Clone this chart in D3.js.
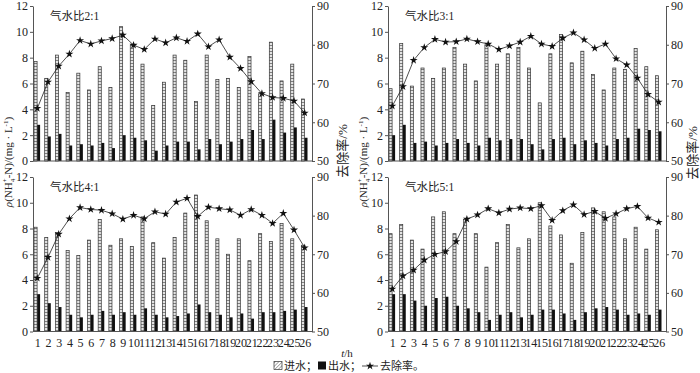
<!DOCTYPE html>
<html><head><meta charset="utf-8">
<script src="https://cdn.jsdelivr.net/npm/d3@7/dist/d3.min.js"></script>
<style>
body{margin:0;background:#fff;}
svg{display:block;}
text{font-family:"Liberation Serif","Times New Roman","Noto Sans CJK SC",serif;fill:#222;}
</style></head>
<body>
<svg id="c" width="700" height="373"></svg>
<script>
const categories = d3.range(1, 27).map(String);
const leftTicks = [0, 2, 4, 6, 8, 10, 12];
const rightTicks = [50, 60, 70, 80, 90];
const titles = ["气水比2:1", "气水比3:1", "气水比4:1", "气水比5:1"];

const inflow21 = [7.7,6.4,8.2,5.3,6.8,5.5,7.3,5.7,10.4,9.0,7.5,4.3,6.1,8.2,7.8,4.6,8.2,6.3,6.4,5.7,8.1,5.2,9.2,6.2,7.5,4.8];
const outflow21 = [2.8,1.9,2.1,1.2,1.3,1.2,1.4,1.0,2.0,1.8,1.6,0.8,1.2,1.5,1.5,0.9,1.7,1.3,1.5,1.7,2.4,1.7,3.2,2.2,2.6,1.8];
const removal21 = [63.6,70.4,74.5,77.6,81.1,80.2,81.0,81.6,82.5,79.9,78.8,81.5,80.5,81.8,80.9,82.8,79.5,81.3,76.8,73.9,70.5,67.4,66.4,66.2,65.5,62.4];

const inflow31 = [5.6,9.1,5.8,7.2,6.4,7.2,8.8,7.5,6.2,9.0,7.5,8.3,8.8,7.2,4.5,8.3,9.8,7.6,8.5,6.7,5.5,7.2,7.1,8.7,7.3,6.6];
const outflow31 = [2.0,2.8,1.4,1.5,1.2,1.4,1.7,1.4,1.2,1.8,1.6,1.7,1.7,1.3,0.9,1.7,1.8,1.3,1.6,1.4,1.2,1.7,1.8,2.5,2.4,2.3];
const removal31 = [64.2,69.2,76.0,79.3,81.4,80.7,80.8,81.5,80.8,80.2,78.8,79.7,80.7,82.2,80.2,79.6,81.7,83.1,81.3,79.1,80.2,76.4,74.8,71.4,67.2,65.2];

const inflow41 = [8.1,7.3,7.7,6.3,5.9,7.1,8.7,6.7,7.2,6.6,8.9,6.9,5.7,7.3,9.2,10.6,8.6,7.2,6.0,7.2,5.5,7.6,7.0,8.4,7.2,6.7];
const outflow41 = [2.9,2.2,1.9,1.3,1.1,1.3,1.6,1.3,1.5,1.3,1.8,1.3,1.1,1.2,1.4,2.1,1.5,1.3,1.1,1.4,1.0,1.5,1.5,1.6,1.7,1.9];
const removal41 = [63.8,69.2,75.2,79.2,82.1,81.6,81.4,80.5,79.1,80.1,79.2,81.0,80.4,83.5,84.5,79.8,82.2,81.8,81.5,80.1,81.6,80.1,78.0,80.6,76.3,71.7];

const inflow51 = [7.6,8.3,7.1,6.4,8.9,9.3,7.6,8.7,7.6,5.0,6.9,8.3,6.5,7.2,10.0,8.2,7.5,5.3,7.7,9.6,9.3,8.9,7.2,8.1,6.4,7.9];
const outflow51 = [2.9,2.9,2.4,2.0,2.6,2.7,2.0,1.8,1.5,0.9,1.3,1.5,1.1,1.3,1.7,1.7,1.4,0.9,1.5,1.8,1.9,1.7,1.3,1.4,1.3,1.7];
const removal51 = [61.0,64.4,65.9,68.5,70.0,70.7,73.3,79.1,80.2,81.8,80.7,81.7,82.0,81.8,82.6,78.8,81.3,82.8,80.3,81.1,79.3,80.5,81.8,82.4,79.4,78.3];

const svg = d3.select("#c");
const defs = svg.append("defs");
const pat = defs.append("pattern").attr("id","hatch").attr("patternUnits","userSpaceOnUse")
  .attr("width",4).attr("height",3);
pat.append("rect").attr("width",4).attr("height",3).attr("fill","#e4e4e4");
pat.append("line").attr("x1",0).attr("x2",4).attr("y1",0.5).attr("y2",0.5)
  .attr("stroke","#555").attr("stroke-width",0.7);
const pat2 = defs.append("pattern").attr("id","diag").attr("patternUnits","userSpaceOnUse")
  .attr("width",2.5).attr("height",2.5).attr("patternTransform","rotate(45)");
pat2.append("rect").attr("width",2.5).attr("height",2.5).attr("fill","#fff");
pat2.append("line").attr("x1",0).attr("x2",0).attr("y1",0).attr("y2",2.5)
  .attr("stroke","#333").attr("stroke-width",0.8);

const AX = "#555";
const panels = [
  {title:titles[0], x0:33, x1:312, y0:6, y1:161, inflow:inflow21, outflow:outflow21, removal:removal21, showX:false},
  {title:titles[1], x0:388, x1:666, y0:6, y1:161, inflow:inflow31, outflow:outflow31, removal:removal31, showX:false},
  {title:titles[2], x0:33, x1:312, y0:177, y1:331.5, inflow:inflow41, outflow:outflow41, removal:removal41, showX:true},
  {title:titles[3], x0:388, x1:666, y0:177, y1:331.5, inflow:inflow51, outflow:outflow51, removal:removal51, showX:true}
];

function styleAxis(g){
  g.selectAll("path.domain").attr("stroke",AX).attr("stroke-width",1);
  g.selectAll(".tick line").attr("stroke",AX);
  g.selectAll("text").style("font-size","12px").attr("fill","#222");
}

panels.forEach(p => {
  const g = svg.append("g");
  const x = d3.scalePoint().domain(categories).range([p.x0 + 4.3, p.x1 - 7.3]);
  const y = d3.scaleLinear().domain([0,12]).range([p.y1, p.y0]);
  const y2 = d3.scaleLinear().domain([50,90]).range([p.y1, p.y0]);

  g.selectAll("rect.in").data(p.inflow).enter().append("rect")
    .attr("x",(d,i)=>x(categories[i]) - 3.3).attr("width",3.1)
    .attr("y",d=>y(d)).attr("height",d=>y(0)-y(d))
    .attr("fill","url(#hatch)").attr("stroke","#333").attr("stroke-width",0.7);
  g.selectAll("rect.out").data(p.outflow).enter().append("rect")
    .attr("x",(d,i)=>x(categories[i]) - 0.1).attr("width",2.9)
    .attr("y",d=>y(d)).attr("height",d=>y(0)-y(d))
    .attr("fill","#111");

  g.append("line").attr("x1",p.x0).attr("x2",p.x1).attr("y1",y(0)).attr("y2",y(0))
    .attr("stroke",AX).attr("stroke-width",1);
  if (p.showX) {
    const gx = g.append("g").attr("transform",`translate(0,${y(0)})`)
      .call(d3.axisBottom(x).tickSize(0).tickPadding(7));
    gx.select("path.domain").remove();
    styleAxis(gx);
  }
  const gl = g.append("g").attr("transform",`translate(${p.x0},0)`)
    .call(d3.axisLeft(y).tickValues(leftTicks).tickSize(3).tickSizeOuter(0).tickPadding(2));
  styleAxis(gl);
  const gr = g.append("g").attr("transform",`translate(${p.x1},0)`)
    .call(d3.axisRight(y2).tickValues(rightTicks).tickSize(3).tickSizeOuter(0).tickPadding(2));
  styleAxis(gr);

  const line = d3.line().x((d,i)=>x(categories[i])).y(d=>y2(d));
  g.append("path").datum(p.removal).attr("d",line).attr("fill","none")
    .attr("stroke","#222").attr("stroke-width",0.8);
  g.selectAll("path.star").data(p.removal).enter().append("path")
    .attr("d",d3.symbol(d3.symbolStar,20))
    .attr("transform",(d,i)=>`translate(${x(categories[i])},${y2(d)})`)
    .attr("fill","#111");

  g.append("text").attr("x",p.x0+17).attr("y",p.y0+14).style("font-size","11.5px").text(p.title);
});

function rhoLabel(cx, cy){
  const t = svg.append("text").attr("transform",`translate(${cx},${cy}) rotate(-90)`)
    .attr("text-anchor","middle").style("font-size","11px");
  t.append("tspan").style("font-style","italic").text("ρ");
  t.append("tspan").text("(NH");
  t.append("tspan").attr("dy",3).style("font-size","7px").text("4");
  t.append("tspan").attr("dx",-3.5).attr("dy",-8).style("font-size","7px").text("+");
  t.append("tspan").attr("dy",5).text("-N)/(mg · L");
  t.append("tspan").attr("dy",-4).style("font-size","7px").text("-1");
  t.append("tspan").attr("dy",4).text(")");
}
rhoLabel(12, 162);
rhoLabel(367, 162);
function remLabel(cx, cy){
  svg.append("text").attr("transform",`translate(${cx},${cy}) rotate(-90)`)
    .attr("text-anchor","middle").style("font-size","13px").text("去除率/%");
}
remLabel(347, 151);
remLabel(697, 153);

const xl = svg.append("text").attr("x",347).attr("y",357).attr("text-anchor","middle").style("font-size","11px");
xl.append("tspan").style("font-style","italic").text("t");
xl.append("tspan").text("/h");

const lg = svg.append("g").attr("transform","translate(274,366)");
let cx = 0;
lg.append("rect").attr("x",cx).attr("y",-4.5).attr("width",8).attr("height",8)
  .attr("fill","url(#diag)").attr("stroke","#333").attr("stroke-width",0.7);
cx += 10;
let t1 = lg.append("text").attr("x",cx).attr("y",4).style("font-size","11px").text("进水；");
cx += t1.node().getComputedTextLength() + 1;
lg.append("rect").attr("x",cx).attr("y",-4.5).attr("width",8).attr("height",8).attr("fill","#111");
cx += 10;
let t2 = lg.append("text").attr("x",cx).attr("y",4).style("font-size","11px").text("出水；");
cx += t2.node().getComputedTextLength() + 1;
lg.append("line").attr("x1",cx).attr("x2",cx+16).attr("y1",0).attr("y2",0).attr("stroke","#222").attr("stroke-width",0.8);
lg.append("path").attr("d",d3.symbol(d3.symbolStar,20)).attr("transform",`translate(${cx+8},0)`).attr("fill","#111");
cx += 18;
lg.append("text").attr("x",cx).attr("y",4).style("font-size","11px").text("去除率。");
</script>
</body></html>
